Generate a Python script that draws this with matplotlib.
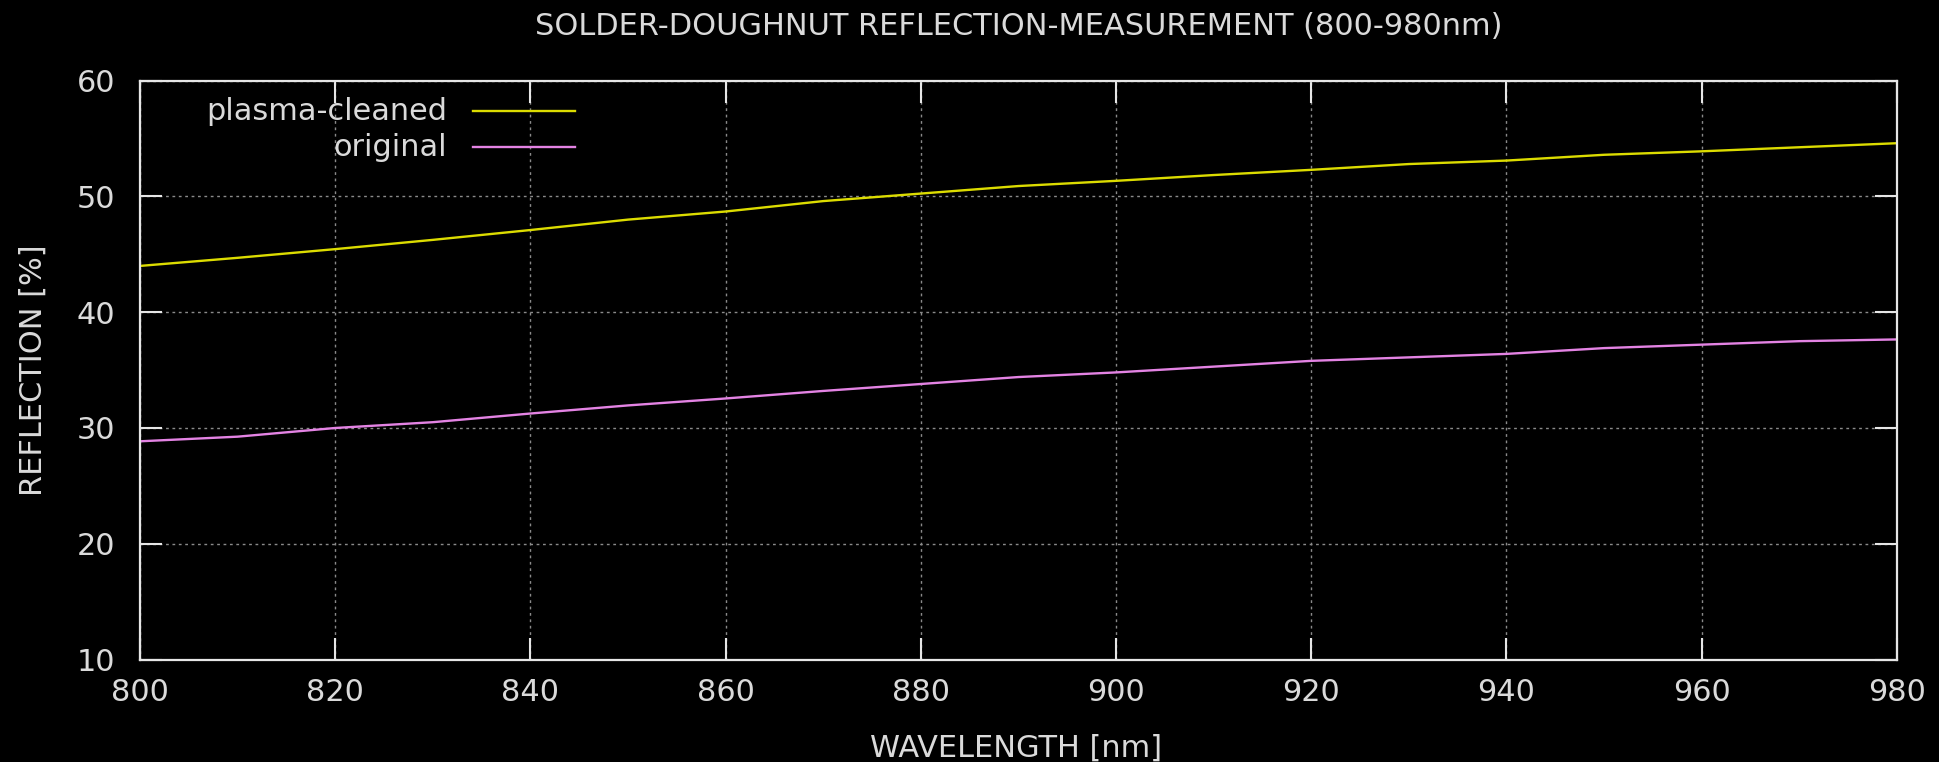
import matplotlib
matplotlib.use('Agg')
import matplotlib.pyplot as plt
from matplotlib import font_manager
from matplotlib.lines import Line2D

wavelength = [800, 810, 820, 830, 840, 850, 860, 870, 880, 890,
              900, 910, 920, 930, 940, 950, 960, 970, 980]
plasma_cleaned = [44.0, 44.7, 45.45, 46.25, 47.1, 48.0, 48.7, 49.6, 50.25, 50.9,
                  51.35, 51.85, 52.3, 52.8, 53.1, 53.6, 53.9, 54.25, 54.6]
original = [28.85, 29.25, 30.0, 30.5, 31.25, 31.95, 32.55, 33.2, 33.8, 34.4,
            34.8, 35.3, 35.8, 36.1, 36.4, 36.9, 37.2, 37.5, 37.65]

series_labels = ['plasma-cleaned', 'original']
x_ticks = [800, 820, 840, 860, 880, 900, 920, 940, 960, 980]
y_ticks = [10, 20, 30, 40, 50, 60]

bg_color = 'black'
fg_color = '#e6e6e6'
text_color = '#dadada'
grid_color = '#8a8a8a'
yellow = '#dcdc00'
violet = '#e383e3'

# gnuplot uses a narrow sans; pick one if it is there
installed = {f.name for f in font_manager.fontManager.ttflist}
family = 'DejaVu Sans'
for name in ['DejaVu Sans Condensed', 'Liberation Sans Narrow']:
    if name in installed:
        family = name
        break
plt.rcParams['font.family'] = [family, 'DejaVu Sans']
fs = {'DejaVu Sans Condensed': 24.5, 'Liberation Sans Narrow': 25}.get(family, 21.9)

fig = plt.figure(figsize=(19.39, 7.62), dpi=100)
fig.patch.set_facecolor(bg_color)
ax = fig.add_axes([0.0722, 0.1345, 0.9061, 0.7596])
ax.set_facecolor(bg_color)

ax.plot(wavelength, plasma_cleaned, color=yellow, lw=1.7)
ax.plot(wavelength, original, color=violet, lw=1.7)

ax.set_xlim(800, 980)
ax.set_ylim(10, 60)
ax.set_xticks(x_ticks)
ax.set_yticks(y_ticks)
ax.tick_params(direction='in', length=16, width=1.5, colors=fg_color,
               labelcolor=text_color, top=True, right=True, labelsize=fs)
ax.tick_params(axis='x', pad=13)
ax.tick_params(axis='y', pad=18)
for s in ax.spines.values():
    s.set_color(fg_color)
    s.set_linewidth(1.6)

ax.grid(True, color=grid_color, lw=1.0, linestyle=(0, (2, 2.6)))
ax.set_axisbelow(True)

ax.set_title('SOLDER-DOUGHNUT REFLECTION-MEASUREMENT (800-980nm)',
             color=text_color, fontsize=fs, pad=33)
ax.set_xlabel('WAVELENGTH [nm]', color=text_color, fontsize=fs)
ax.set_ylabel('REFLECTION [%]', color=text_color, fontsize=fs)
ax.xaxis.set_label_coords(0.4985, -0.129)
ax.yaxis.set_label_coords(-0.0525, 0.5)

# gnuplot style key: right aligned text, sample line after it
key_y = [0.9476, 0.8854]
for label, color, yk in zip(series_labels, [yellow, violet], key_y):
    ax.text(0.1747, yk, label, transform=ax.transAxes, ha='right', va='center',
            color=text_color, fontsize=fs)
    ax.add_line(Line2D([0.1895, 0.2476], [yk, yk], transform=ax.transAxes,
                       color=color, lw=1.7))

fig.savefig('out.png', dpi=100, facecolor=bg_color)
